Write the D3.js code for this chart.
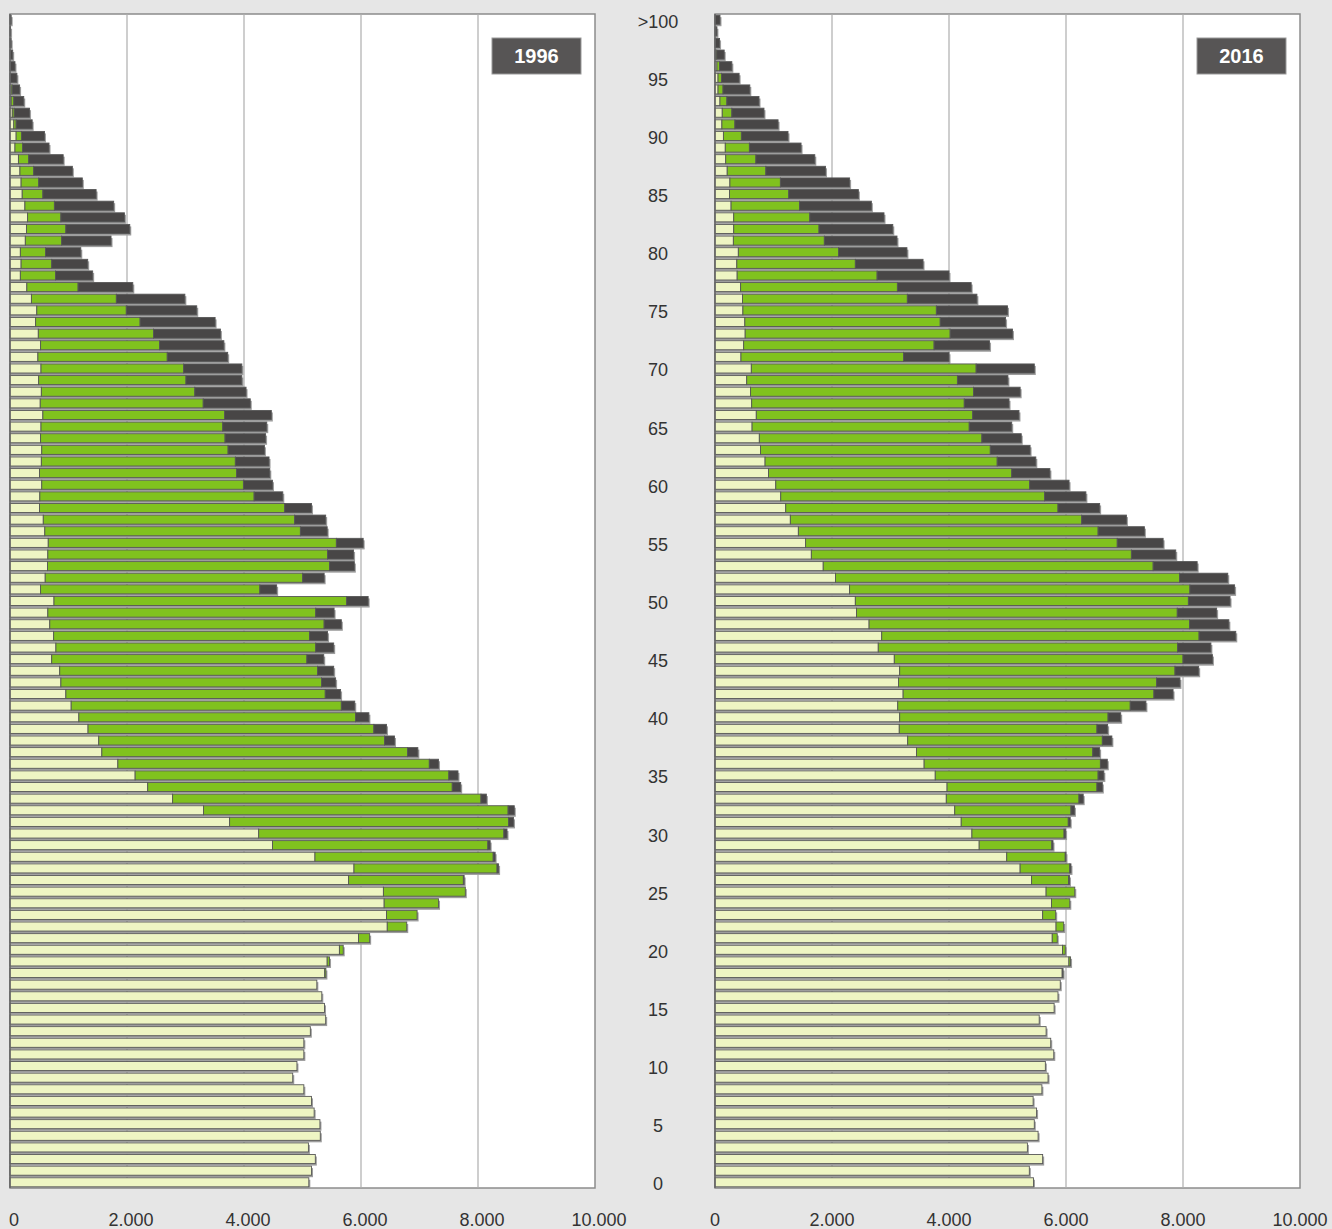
<!DOCTYPE html>
<html>
<head>
<meta charset="utf-8">
<script src="https://cdn.jsdelivr.net/npm/d3@7"></script>
<style>
  body { margin: 0; background: #e6e6e6; }
  text { font-family: "Liberation Sans", Arial, sans-serif; }
</style>
</head>
<body>
<div id="pyramids"></div>
<script>
// ages 0 .. 100 (100 = ">100")
var ages = d3.range(0, 101);
var ageTicks = [0, 5, 10, 15, 20, 25, 30, 35, 40, 45, 50, 55, 60, 65, 70, 75, 80, 85, 90, 95, 100];
var ageTickLabels = ["0", "5", "10", "15", "20", "25", "30", "35", "40", "45", "50", "55", "60", "65", "70", "75", "80", "85", "90", "95", ">100"];
var xTicks = [0, 2000, 4000, 6000, 8000, 10000];
var years = ["1996", "2016"];

// 1996, from age 0 upwards
var single1996 = [5108, 5154, 5219, 5101, 5304, 5298, 5199, 5154, 5023, 4833,
  4905, 5023, 5023, 5134, 5396, 5376, 5330, 5245, 5380, 5422,
  5631, 5958, 6449, 6436, 6396, 6383, 5788, 5880, 5213, 4487,
  4251, 3754, 3309, 2780, 2354, 2139, 1844, 1570, 1517, 1334,
  1177, 1046, 955, 870, 850, 713, 785, 746, 680, 647,
  752, 523, 602, 641, 647, 654, 595, 569, 504, 510,
  543, 504, 536, 543, 523, 530, 562, 517, 536, 490,
  530, 477, 523, 484, 438, 458, 366, 288, 177, 190,
  177, 262, 281, 301, 255, 209, 190, 170, 144, 85,
  105, 65, 39, 20, 20, 0, 0, 0, 0, 0, 0];
var married1996 = [0, 0, 0, 0, 0, 0, 0, 0, 0, 0,
  0, 0, 0, 0, 0, 0, 0, 0, 20, 40,
  65, 190, 333, 523, 929, 1400, 1962, 2446, 3047, 3682,
  4192, 4768, 5206, 5271, 5206, 5363, 5324, 5225, 4886, 4886,
  4729, 4618, 4434, 4454, 4408, 4362, 4441, 4375, 4690, 4579,
  5003, 3748, 4401, 4820, 4781, 4925, 4369, 4297, 4192, 3663,
  3447, 3368, 3316, 3185, 3153, 3106, 3107, 2786, 2623, 2518,
  2439, 2211, 2034, 1969, 1786, 1530, 1452, 876, 601, 523,
  431, 621, 674, 569, 504, 353, 301, 235, 176, 131,
  91, 40, 33, 45, 19, 10, 5, 0, 0, 0, 0];
var widowed1996 = [0, 0, 0, 0, 0, 0, 0, 0, 0, 0,
  0, 0, 0, 0, 0, 0, 0, 0, 0, 0,
  0, 0, 0, 0, 0, 0, 13, 26, 33, 39,
  53, 85, 105, 92, 144, 156, 157, 177, 170, 216,
  229, 229, 262, 242, 275, 288, 307, 307, 294, 314,
  367, 287, 367, 425, 445, 458, 458, 530, 458, 490,
  497, 569, 576, 621, 693, 753, 798, 804, 876, 955,
  994, 1033, 1099, 1144, 1282, 1204, 1171, 935, 635, 615,
  602, 844, 1092, 1086, 1013, 910, 745, 661, 589, 451,
  393, 274, 262, 170, 125, 108, 80, 46, 20, 10, 20];

// 2016, from age 0 upwards
var single2016 = [5444, 5373, 5601, 5340, 5523, 5458, 5497, 5438, 5588, 5693,
  5647, 5791, 5739, 5660, 5542, 5797, 5863, 5902, 5935, 6050,
  5941, 5765, 5830, 5601, 5752, 5660, 5412, 5216, 4987, 4516,
  4392, 4209, 4098, 3954, 3967, 3765, 3575, 3444, 3294, 3150,
  3157, 3124, 3216, 3137, 3157, 3065, 2791, 2850, 2634, 2418,
  2399, 2301, 2059, 1850, 1647, 1549, 1425, 1288, 1209, 1124,
  1039, 915, 856, 778, 758, 634, 706, 627, 608, 542,
  621, 444, 490, 516, 510, 477, 471, 438, 379, 373,
  399, 314, 320, 320, 275, 248, 255, 209, 183, 176,
  144, 118, 124, 85, 52, 52, 33, 10, 0, 0, 0];
var married2016 = [0, 0, 0, 0, 0, 0, 0, 0, 0, 0,
  0, 0, 0, 0, 0, 0, 0, 0, 15, 28,
  46, 85, 131, 223, 313, 490, 634, 849, 1000, 1242,
  1575, 1830, 1987, 2268, 2562, 2784, 3013, 3014, 3327, 3379,
  3562, 3974, 4287, 4412, 4706, 4935, 5117, 5425, 5477, 5484,
  5693, 5817, 5882, 5640, 5471, 5327, 5124, 4980, 4654, 4510,
  4340, 4157, 3968, 3928, 3804, 3712, 3699, 3634, 3810, 3602,
  3843, 2778, 3255, 3504, 3340, 3307, 2817, 2680, 2392, 2026,
  1712, 1555, 1458, 1301, 1169, 1013, 863, 660, 516, 412,
  307, 222, 164, 118, 85, 59, 45, 20, 10, 0, 0];
var widowed2016 = [0, 0, 0, 0, 0, 0, 0, 0, 0, 0,
  0, 0, 0, 0, 0, 0, 0, 0, 0, 0,
  0, 0, 0, 0, 0, 0, 13, 20, 13, 20,
  26, 33, 59, 72, 92, 98, 118, 117, 163, 183,
  216, 268, 327, 399, 405, 503, 569, 627, 673, 673,
  712, 764, 824, 752, 758, 784, 791, 765, 712, 706,
  673, 653, 660, 680, 673, 726, 791, 765, 798, 863,
  994, 778, 948, 1065, 1117, 1216, 1189, 1261, 1229, 1157,
  1170, 1242, 1261, 1268, 1229, 1190, 1183, 1020, 1007, 883,
  797, 738, 549, 549, 458, 301, 210, 127, 68, 33, 85];

var colors = {single: "#eef5c3", married: "#80c21e", widowed: "#484646"};
var keys = ["single", "married", "widowed"];

var w = 1332, h = 1229;
var plotTop = 14, plotBottom = 1188;
var panels = [
  {year: years[0], left: 10, right: 595, labelDx: 4,
   single: single1996, married: married1996, widowed: widowed1996},
  {year: years[1], left: 715, right: 1300, labelDx: 0,
   single: single2016, married: married2016, widowed: widowed2016}
];

var de = d3.formatLocale({decimal: ",", thousands: ".", grouping: [3], currency: ["", " €"]});
var fmt = de.format(",d");

var svg = d3.select("#pyramids")
    .append("svg")
    .attr("width", w)
    .attr("height", h);

svg.append("rect")
    .attr("width", w)
    .attr("height", h)
    .attr("fill", "#e6e6e6");

var y = d3.scaleBand()
    .domain(ages)
    .range([plotBottom, plotTop])
    .paddingInner(0.22)
    .paddingOuter(0.1);

panels.forEach(function(p) {
  var x = d3.scaleLinear()
      .domain([0, 10000])
      .range([p.left, p.right]);

  var g = svg.append("g");

  g.append("rect")
      .attr("x", p.left)
      .attr("y", plotTop)
      .attr("width", p.right - p.left)
      .attr("height", plotBottom - plotTop)
      .attr("fill", "#fff")
      .attr("stroke", "#8c8c8c")
      .attr("stroke-width", 1.5);

  // grid
  g.selectAll("line.grid")
      .data(xTicks.slice(1, -1))
      .enter()
      .append("line")
      .attr("class", "grid")
      .attr("x1", function(d) { return x(d); })
      .attr("x2", function(d) { return x(d); })
      .attr("y1", plotTop)
      .attr("y2", plotBottom)
      .attr("stroke", "#adadad")
      .attr("stroke-width", 1.2);

  var rows = ages.map(function(a, i) {
    return {age: a, single: p.single[i], married: p.married[i], widowed: p.widowed[i]};
  });
  var series = d3.stack().keys(keys)(rows);
  var totals = series[series.length - 1];

  // soft shadow under every bar
  g.selectAll("rect.shadow")
      .data(totals.filter(function(d) { return d[1] > 0; }))
      .enter()
      .append("rect")
      .attr("class", "shadow")
      .attr("x", x(0))
      .attr("y", function(d) { return y(d.data.age) + 2; })
      .attr("width", function(d) { return x(d[1]) - x(0) + 1.5; })
      .attr("height", y.bandwidth())
      .attr("fill", "#9d9d9d");

  g.selectAll("g.layer")
      .data(series)
      .enter()
      .append("g")
      .attr("class", "layer")
      .attr("fill", function(d) { return colors[d.key]; })
      .selectAll("rect")
      .data(function(d) { return d.filter(function(s) { return s[1] > s[0]; }); })
      .enter()
      .append("rect")
      .attr("x", function(d) { return x(d[0]); })
      .attr("y", function(d) { return y(d.data.age); })
      .attr("width", function(d) { return x(d[1]) - x(d[0]); })
      .attr("height", y.bandwidth())
      .attr("stroke", "#575757")
      .attr("stroke-width", 0.9);

  // left axis line
  g.append("line")
      .attr("x1", p.left)
      .attr("x2", p.left)
      .attr("y1", plotTop)
      .attr("y2", plotBottom)
      .attr("stroke", "#666")
      .attr("stroke-width", 1.5);

  // x labels
  g.selectAll("text.xl")
      .data(xTicks)
      .enter()
      .append("text")
      .attr("class", "xl")
      .attr("x", function(d) { return x(d) + p.labelDx; })
      .attr("y", 1226)
      .attr("text-anchor", "middle")
      .attr("font-size", 18)
      .attr("fill", "#333")
      .text(function(d) { return fmt(d); });

  // year badge
  g.append("rect")
      .attr("x", p.right - 103)
      .attr("y", 38)
      .attr("width", 89)
      .attr("height", 36)
      .attr("fill", "#575555")
      .attr("stroke", "#9a9a9a")
      .attr("stroke-width", 1);

  g.append("text")
      .attr("x", p.right - 58.5)
      .attr("y", 63)
      .attr("text-anchor", "middle")
      .attr("font-size", 20)
      .attr("font-weight", "bold")
      .attr("fill", "#fff")
      .text(p.year);
});

// age labels between panels
svg.selectAll("text.age")
    .data(ageTicks)
    .enter()
    .append("text")
    .attr("class", "age")
    .attr("x", 658)
    .attr("y", function(d) { return y(d) + y.bandwidth() / 2 + 8; })
    .attr("text-anchor", "middle")
    .attr("font-size", 18)
    .attr("fill", "#333")
    .text(function(d, i) { return ageTickLabels[i]; });
</script>
</body>
</html>
